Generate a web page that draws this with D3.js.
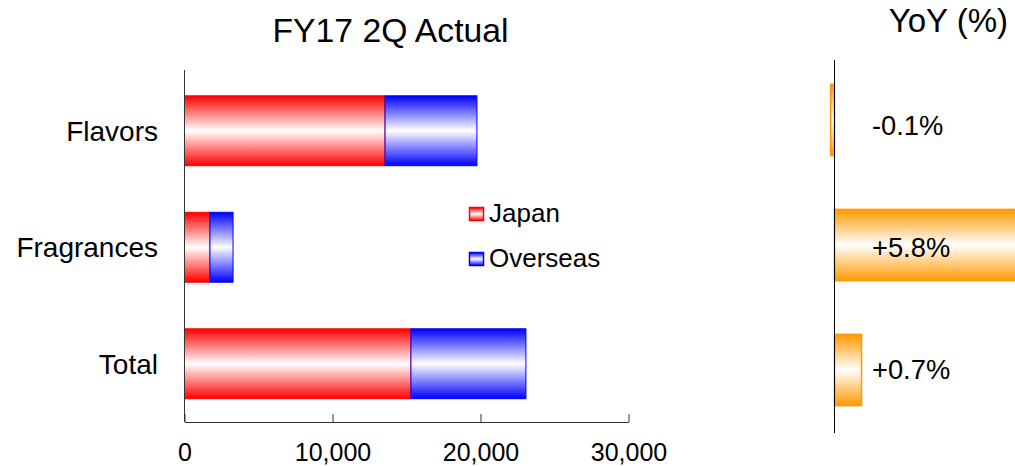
<!DOCTYPE html>
<html>
<head>
<meta charset="utf-8">
<script src="https://cdn.jsdelivr.net/npm/d3@7"></script>
<style>
  html, body { margin: 0; padding: 0; background: #fff; }
  svg { display: block; font-family: Arial, "Liberation Sans", sans-serif; }
</style>
</head>
<body>
<div id="chart"></div>
<script>
// values (sales, million yen) and YoY %
const categories = ['Flavors', 'Fragrances', 'Total'];
const japan = [13550, 1720, 15300];
const overseas = [6210, 1560, 7770];
const yoy = [-0.1, 5.8, 0.7];
const yoyLabels = ['-0.1%', '+5.8%', '+0.7%'];
const xTicks = [0, 10000, 20000, 30000];
const seriesNames = ['Japan', 'Overseas'];

const W = 1015, H = 466;
const svg = d3.select('#chart').append('svg')
  .attr('width', W).attr('height', H);

// vertical gradients: colour at edges, white in the middle
const defs = svg.append('defs');
function grad(id, c) {
  const g = defs.append('linearGradient').attr('id', id)
    .attr('x1', 0).attr('y1', 0).attr('x2', 0).attr('y2', 1);
  g.append('stop').attr('offset', '0%').attr('stop-color', c);
  g.append('stop').attr('offset', '50%').attr('stop-color', '#fff');
  g.append('stop').attr('offset', '100%').attr('stop-color', c);
}
grad('gJapan', '#ff0000');
grad('gOver', '#0000ff');
grad('gYoy', '#ff9900');

// ---- left panel: stacked sales ----
const x = d3.scaleLinear().domain([0, 30000]).range([184.5, 628.5]);
const y = d3.scaleBand().domain(categories).range([72.5, 422]).paddingInner(0.4).paddingOuter(0.2);

const rows = categories.map((c, i) => ({ c, j: japan[i], o: overseas[i] }));

svg.append('g').selectAll('rect.jp').data(rows).join('rect')
  .attr('x', x(0)).attr('y', d => y(d.c))
  .attr('width', d => x(d.j) - x(0)).attr('height', y.bandwidth())
  .attr('fill', 'url(#gJapan)').attr('stroke', '#ff0000').attr('stroke-width', 1);

svg.append('g').selectAll('rect.os').data(rows).join('rect')
  .attr('x', d => x(d.j)).attr('y', d => y(d.c))
  .attr('width', d => x(d.j + d.o) - x(d.j)).attr('height', y.bandwidth())
  .attr('fill', 'url(#gOver)').attr('stroke', '#0000ff').attr('stroke-width', 1);

// axes
const xAxis = svg.append('g').attr('transform', 'translate(0,422)')
  .call(d3.axisBottom(x).tickValues(xTicks).tickSizeInner(-8).tickSizeOuter(0)
    .tickFormat(d3.format(',')));
xAxis.select('.domain').attr('stroke', '#333');
xAxis.selectAll('.tick line').attr('stroke', '#333');
xAxis.selectAll('.tick text').attr('y', 38.5).attr('dy', 0).attr('font-size', 25).attr('fill', '#000')
  .attr('font-family', 'Arial, "Liberation Sans", sans-serif');

svg.append('line').attr('x1', 184.5).attr('x2', 184.5).attr('y1', 70).attr('y2', 422)
  .attr('stroke', '#333');

svg.append('g').selectAll('text').data(categories).join('text')
  .attr('x', 158).attr('y', d => y(d) + y.bandwidth() / 2)
  .attr('dy', '0.35em').attr('text-anchor', 'end')
  .attr('font-size', 28).text(d => d);

svg.append('text').attr('x', 390.5).attr('y', 42).attr('text-anchor', 'middle')
  .attr('font-size', 33.7).text('FY17 2Q Actual');

// legend
const lg = svg.append('g');
const legFill = ['url(#gJapan)', 'url(#gOver)'];
const legStroke = ['#ff0000', '#0000ff'];
seriesNames.forEach((n, i) => {
  const yy = 207.5 + i * 45;
  lg.append('rect').attr('x', 469.5).attr('y', yy).attr('width', 14).attr('height', 13)
    .attr('fill', legFill[i]).attr('stroke', legStroke[i]).attr('stroke-width', 1.5);
  lg.append('text').attr('x', 489).attr('y', yy + 14.5).attr('font-size', 26).text(n);
});

// ---- right panel: YoY ----
const xr = d3.scaleLinear().domain([0, 1]).range([834.5, 873.1]);
const yr = d3.scaleBand().domain(categories).range([57.5, 432.5]).paddingInner(0.43).paddingOuter(0.215);
const yl = d3.scaleBand().domain(categories).range([64.4, 430.4]);

svg.append('g').selectAll('rect').data(yoy).join('rect')
  .attr('x', d => Math.min(xr(0), xr(d)))
  .attr('y', (d, i) => yr(categories[i]))
  .attr('width', d => Math.abs(xr(d) - xr(0)))
  .attr('height', yr.bandwidth())
  .attr('fill', 'url(#gYoy)').attr('stroke', '#ff9900').attr('stroke-width', 1.5);

svg.append('line').attr('x1', 834.5).attr('x2', 834.5).attr('y1', 60).attr('y2', 433)
  .attr('stroke', '#000');

svg.append('g').selectAll('text').data(yoyLabels).join('text')
  .attr('x', 872).attr('y', (d, i) => yl(categories[i]) + yl.bandwidth() / 2)
  .attr('dy', '0.35em').attr('font-size', 27.3).text(d => d);

svg.append('text').attr('x', 1008).attr('y', 32).attr('text-anchor', 'end')
  .attr('font-size', 33).text('YoY (%)');
</script>
</body>
</html>
